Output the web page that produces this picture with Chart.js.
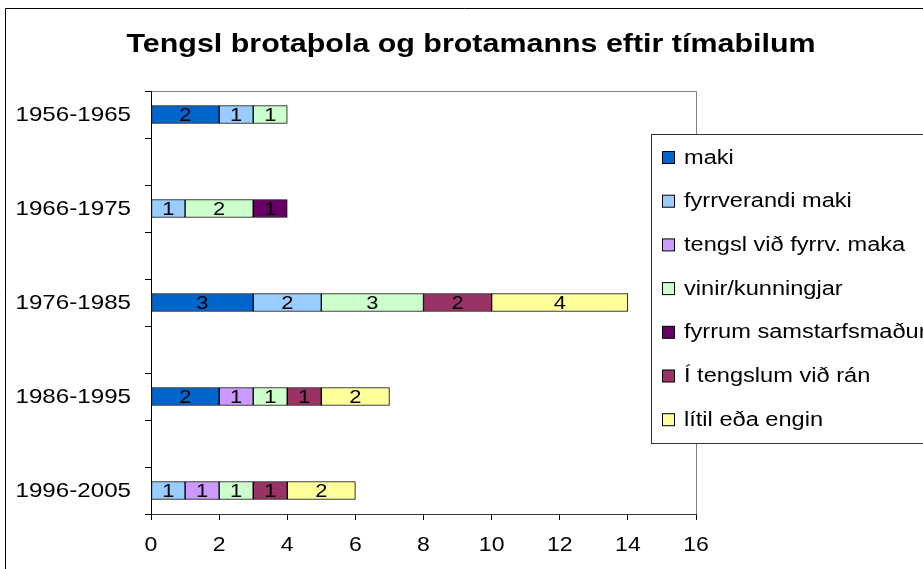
<!DOCTYPE html>
<html>
<head>
<meta charset="utf-8">
<script src="https://cdn.jsdelivr.net/npm/chart.js@4"></script>
<style>
  html, body { margin: 0; padding: 0; background: #fff; }
  #wrap { width: 923px; height: 569px; position: relative; }
</style>
</head>
<body>
<div id="wrap"><canvas id="chart"></canvas></div>
<script>
const categories = ['1956-1965', '1966-1975', '1976-1985', '1986-1995', '1996-2005'];
const maki = [2, null, 3, 2, null];
const fyrrverandiMaki = [1, 1, 2, null, 1];
const tengslFyrrvMaka = [null, null, null, 1, 1];
const vinir = [1, 2, 3, 1, 1];
const samstarfsmadur = [null, 1, null, null, null];
const ran = [null, null, 2, 1, 1];
const litil = [null, null, 4, 2, 2];
const xTicks = [0, 2, 4, 6, 8, 10, 12, 14, 16];

// the original leaves an empty row between each period
function spread(arr) {
  const out = [];
  arr.forEach((v, i) => {
    out.push(v);
    if (i < arr.length - 1) out.push(arr === categories ? '' : null);
  });
  return out;
}

const FONT = '"Liberation Sans", Arial, sans-serif';

// the source picture's text is a bit wide, so stretch it sideways
function wideText(ctx, text, x, y, align, k) {
  ctx.save();
  ctx.translate(x, y);
  ctx.scale(k || 1.15, 1);
  ctx.textAlign = align;
  ctx.fillText(text, 0, 0);
  ctx.restore();
}

function ds(label, data, color) {
  return {
    label: label,
    data: spread(data),
    backgroundColor: color,
    borderColor: '#000',
    borderWidth: 1,
    borderSkipped: false,
    barThickness: 18
  };
}

// values in the middle of each segment + axis labels
const valueLabels = {
  id: 'valueLabels',
  afterDatasetsDraw(chart) {
    const ctx = chart.ctx;
    ctx.save();
    ctx.font = '19px ' + FONT;
    ctx.fillStyle = '#000';
    ctx.textBaseline = 'middle';
    chart.data.datasets.forEach((d, i) => {
      chart.getDatasetMeta(i).data.forEach((el, j) => {
        const v = d.data[j];
        if (v == null) return;
        wideText(ctx, String(v), (el.x + el.base) / 2, el.y + 1, 'center');
      });
    });

    const ys = chart.scales.y;
    ctx.font = '21px ' + FONT;
    chart.data.labels.forEach((lab, i) => {
      if (lab) wideText(ctx, lab, 131, ys.getPixelForTick(i) + 1, 'right');
    });
    const xs = chart.scales.x;
    ctx.font = '20px ' + FONT;
    xTicks.forEach(v => {
      wideText(ctx, String(v), xs.getPixelForValue(v), 545, 'center');
    });
    ctx.restore();
  }
};

// title, frame, plot border and legend box like the spreadsheet original
const decorations = {
  id: 'decorations',
  beforeDraw(chart) {
    const ctx = chart.ctx;
    const a = chart.chartArea;
    ctx.save();
    ctx.strokeStyle = '#000';
    ctx.lineWidth = 1;
    ctx.beginPath();
    ctx.moveTo(5.5, 580);
    ctx.lineTo(5.5, 8.5);
    ctx.lineTo(930, 8.5);
    ctx.stroke();

    ctx.strokeStyle = '#808080';
    ctx.beginPath();
    ctx.moveTo(a.left, a.top + 0.5);
    ctx.lineTo(a.right + 0.5, a.top + 0.5);
    ctx.lineTo(a.right + 0.5, a.bottom);
    ctx.stroke();

    ctx.fillStyle = '#000';
    ctx.font = 'bold 26px ' + FONT;
    ctx.textBaseline = 'middle';
    wideText(ctx, 'Tengsl brotaþola og brotamanns eftir tímabilum', 471, 45, 'center', 1.17);
    ctx.restore();
  },
  afterDraw(chart) {
    const ctx = chart.ctx;
    ctx.save();
    ctx.fillStyle = '#fff';
    ctx.strokeStyle = '#333';
    ctx.lineWidth = 1;
    ctx.fillRect(651.5, 134.5, 300, 309);
    ctx.strokeRect(651.5, 134.5, 300, 309);
    ctx.font = '20px ' + FONT;
    ctx.textBaseline = 'middle';
    chart.data.datasets.forEach((d, i) => {
      const y = 158 + i * 43.7;
      ctx.fillStyle = d.backgroundColor;
      ctx.strokeStyle = '#000';
      ctx.fillRect(662.5, y - 6.5, 12, 12);
      ctx.strokeRect(662.5, y - 6.5, 12, 12);
      ctx.fillStyle = '#000';
      wideText(ctx, d.label, 684, y, 'left', 1.18);
    });
    ctx.restore();
  }
};

new Chart(document.getElementById('chart'), {
  type: 'bar',
  data: {
    labels: spread(categories),
    datasets: [
      ds('maki', maki, '#0066CC'),
      ds('fyrrverandi maki', fyrrverandiMaki, '#99CCFF'),
      ds('tengsl við fyrrv. maka', tengslFyrrvMaka, '#CC99FF'),
      ds('vinir/kunningjar', vinir, '#CCFFCC'),
      ds('fyrrum samstarfsmaður', samstarfsmadur, '#660066'),
      ds('Í tengslum við rán', ran, '#993366'),
      ds('lítil eða engin', litil, '#FFFF99')
    ]
  },
  options: {
    indexAxis: 'y',
    responsive: true,
    maintainAspectRatio: false,
    animation: false,
    layout: { padding: { left: 0, top: 91, right: 227, bottom: 0 } },
    plugins: {
      legend: { display: false },
      title: { display: false },
      tooltip: { enabled: false }
    },
    scales: {
      x: {
        stacked: true,
        min: 0,
        max: 16,
        afterBuildTicks(scale) {
          scale.ticks = xTicks.map(v => ({ value: v }));
        },
        afterFit(scale) { scale.height = 55; },
        border: { display: true, color: '#333', width: 1 },
        grid: { drawOnChartArea: false, drawTicks: true, tickLength: 6, color: '#000' },
        ticks: { display: false }
      },
      y: {
        stacked: true,
        afterFit(scale) { scale.width = 151; },
        border: { display: true, color: '#000', width: 1 },
        grid: { drawOnChartArea: false, drawTicks: true, tickLength: 6, color: '#000' },
        ticks: { display: false, autoSkip: false }
      }
    }
  },
  plugins: [decorations, valueLabels]
});
</script>
</body>
</html>
